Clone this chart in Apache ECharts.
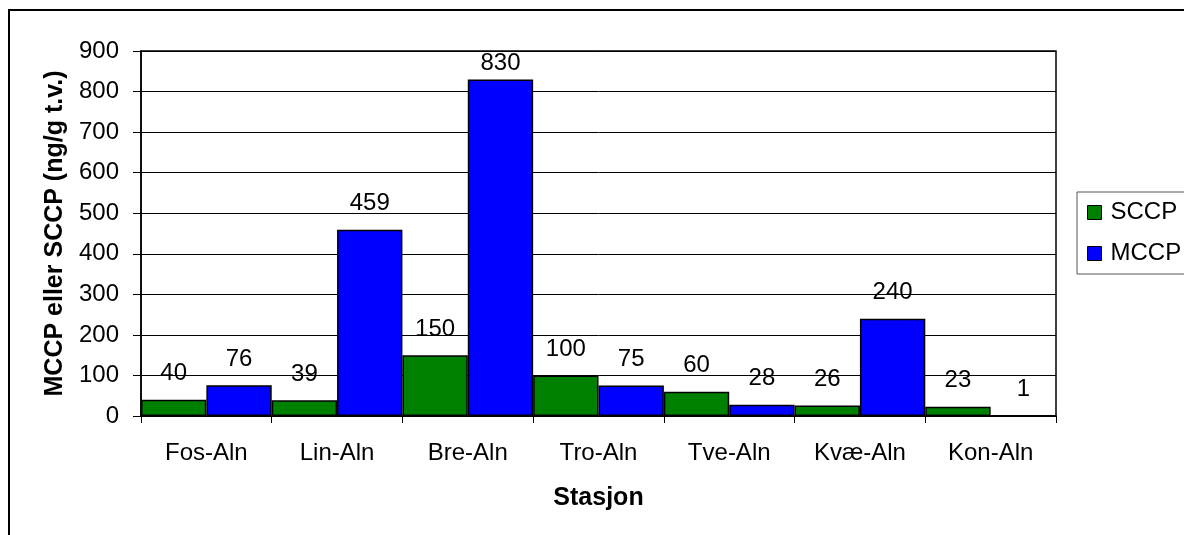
<!DOCTYPE html>
<html>
<head>
<meta charset="utf-8">
<script src="https://cdn.jsdelivr.net/npm/echarts@6/dist/echarts.min.js"></script>
<style>
    html, body { margin: 0; padding: 0; background: #fff; }
    #chart { width: 1184px; height: 535px; }
</style>
</head>
<body>
<div id="chart"></div>
<script>
// data
let stations = ['Fos-Aln', 'Lin-Aln', 'Bre-Aln', 'Tro-Aln', 'Tve-Aln', 'Kvæ-Aln', 'Kon-Aln']
let sccp = [40, 39, 150, 100, 60, 26, 23]
let mccp = [76, 459, 830, 75, 28, 240, 1]
let yTicks = [0, 100, 200, 300, 400, 500, 600, 700, 800, 900]

let font = 'Liberation Sans, Arial, sans-serif'
let myChart = echarts.init(document.getElementById('chart'))

let labelStyle = {
    show: true,
    position: 'top',
    distance: 14,
    color: '#000',
    fontSize: 24,
    fontFamily: font
}

// the tallest label gets pushed down under the plot top, like in excel
let yMax = yTicks[yTicks.length - 1]
let toItems = (arr) => arr.map(v => v > yMax * 0.9 ? { value: v, label: { distance: 4 } } : v)

let option = {
    backgroundColor: '#fff',
    animation: false,
    textStyle: { fontFamily: font },
    // outer frame
    graphic: [{
        type: 'rect',
        shape: { x: 9, y: 10, width: 1200, height: 600 },
        style: { fill: 'none', stroke: '#000', lineWidth: 2 },
        z: 100
    }],
    grid: {
        left: 141,
        right: 128,
        top: 51,
        bottom: 119,
        show: true,
        borderColor: '#000',
        borderWidth: 1.5,
        backgroundColor: '#fff'
    },
    legend: {
        orient: 'vertical',
        left: 1077,
        top: 192,
        padding: [7, 60, 7, 10],
        itemGap: 14,
        itemWidth: 14,
        itemHeight: 14,
        icon: 'rect',
        borderColor: '#555',
        borderWidth: 1,
        data: ['SCCP', 'MCCP'],
        itemStyle: { borderColor: '#000', borderWidth: 1 },
        textStyle: { color: '#000', fontSize: 24, fontFamily: font, lineHeight: 27, padding: [0, 0, 0, 4] }
    },
    xAxis: {
        type: 'category',
        data: stations,
        name: 'Stasjon',
        nameLocation: 'middle',
        nameGap: 70,
        nameTextStyle: { color: '#000', fontSize: 25, fontWeight: 'bold', fontFamily: font },
        axisLine: { lineStyle: { color: '#000', width: 1.5 } },
        axisTick: { show: true, length: 7, lineStyle: { color: '#000' } },
        axisLabel: { color: '#000', fontSize: 24, margin: 25, fontFamily: font }
    },
    yAxis: {
        type: 'value',
        min: yTicks[0],
        max: yMax,
        interval: 100,
        name: 'MCCP eller SCCP (ng/g t.v.)',
        nameLocation: 'middle',
        nameGap: 72,
        nameTextStyle: { color: '#000', fontSize: 25, fontWeight: 'bold', fontFamily: font },
        axisLine: { show: true, lineStyle: { color: '#000', width: 1.5 } },
        axisTick: { show: true, length: 8, lineStyle: { color: '#000' } },
        axisLabel: { color: '#000', fontSize: 24, margin: 22, fontFamily: font },
        splitLine: { show: true, lineStyle: { color: '#000', width: 1 } }
    },
    series: [
        {
            name: 'SCCP',
            type: 'bar',
            data: toItems(sccp),
            barGap: '0%',
            barCategoryGap: '0%',
            itemStyle: { color: '#008000', borderColor: '#000', borderWidth: 1.5 },
            label: labelStyle
        },
        {
            name: 'MCCP',
            type: 'bar',
            data: toItems(mccp),
            barGap: '0%',
            barCategoryGap: '0%',
            itemStyle: { color: '#0000ff', borderColor: '#000', borderWidth: 1.5 },
            label: labelStyle
        }
    ]
}
myChart.setOption(option)
</script>
</body>
</html>
